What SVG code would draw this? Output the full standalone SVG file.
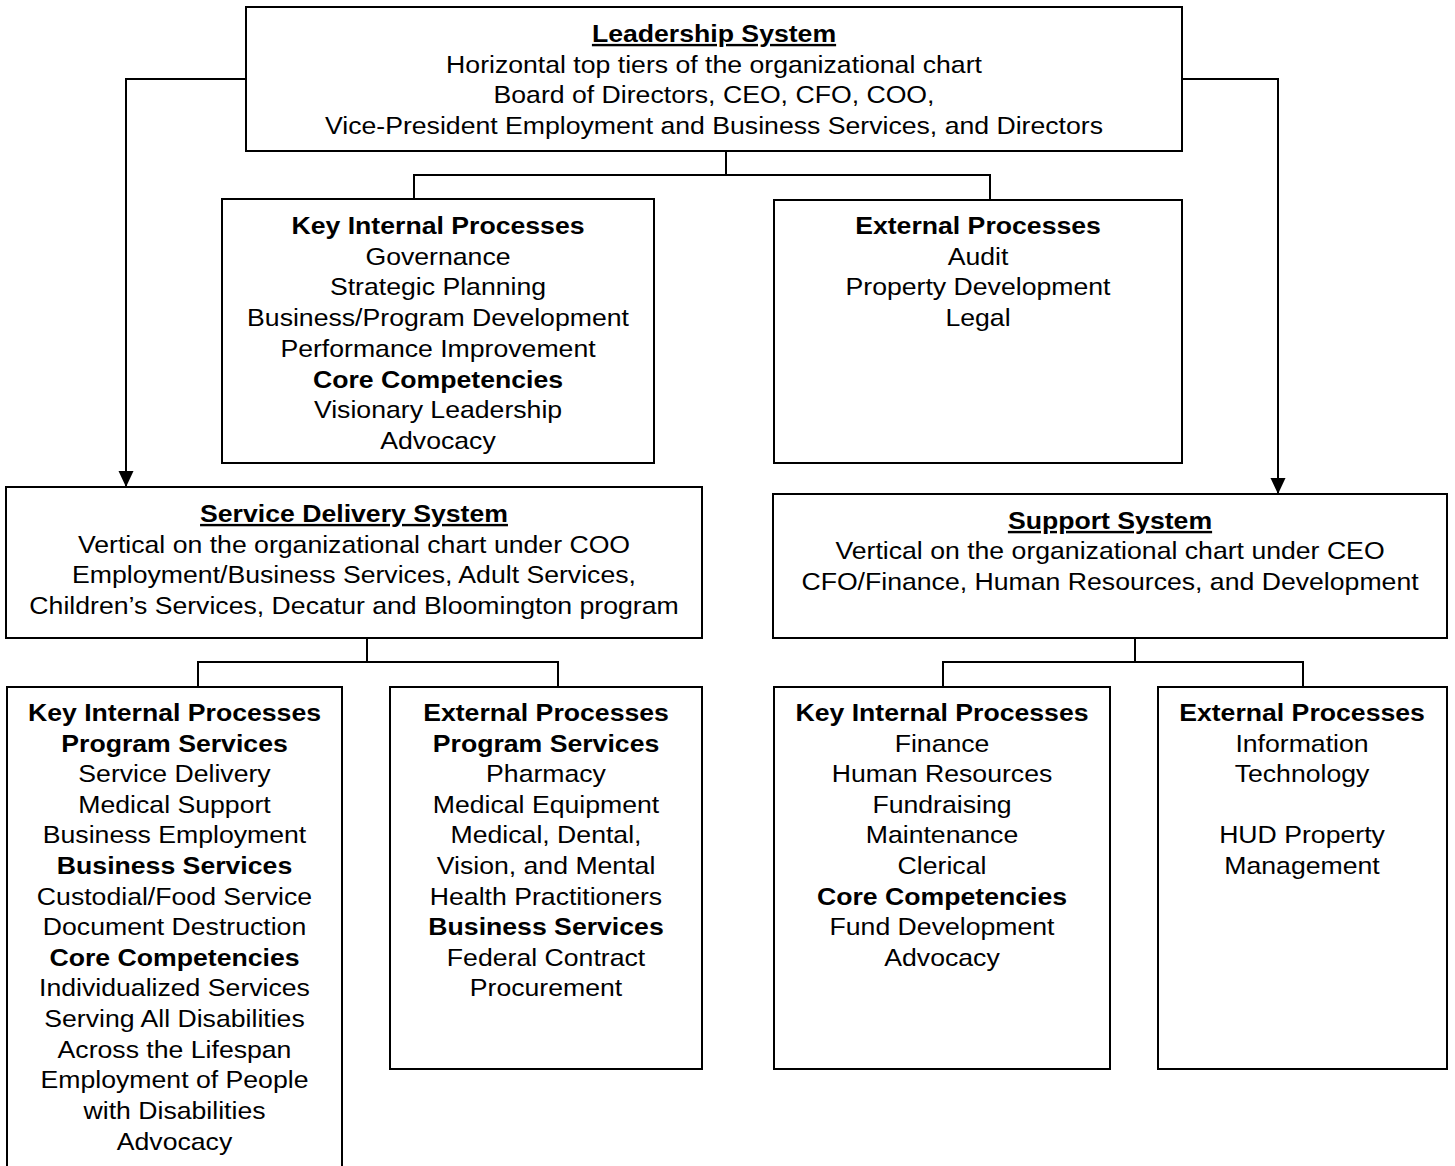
<svg xmlns="http://www.w3.org/2000/svg" width="1455" height="1166" viewBox="0 0 1455 1166">
  <style>
    .box { fill: #ffffff; stroke: #000000; stroke-width: 2; }
    .wire { fill: none; stroke: #000000; stroke-width: 2; }
    text { font-family: "Liberation Sans", Arial, sans-serif; font-size: 24px; fill: #000000; text-anchor: middle; }
    .b { font-weight: bold; }
    .u { font-weight: bold; text-decoration: underline; }
  </style>
  <defs>
    <marker id="head" viewBox="0 0 16 16" refX="16" refY="8" markerWidth="16" markerHeight="16" orient="auto" markerUnits="userSpaceOnUse">
      <path d="M0,0.5 L16,8 L0,15.5 Z" fill="#000000"/>
    </marker>
  </defs>

  <!-- connectors -->
  <g id="connectors">
    <polyline class="wire" points="246,79 126,79 126,487" marker-end="url(#head)"/>
    <polyline class="wire" points="1182,79 1278,79 1278,494" marker-end="url(#head)"/>
    <polyline class="wire" points="726,151 726,175"/>
    <polyline class="wire" points="414,199 414,175 990,175 990,200"/>
    <polyline class="wire" points="367,638 367,662"/>
    <polyline class="wire" points="198,687 198,662 558,662 558,687"/>
    <polyline class="wire" points="1135,638 1135,662"/>
    <polyline class="wire" points="943,687 943,662 1303,662 1303,687"/>
  </g>

  <!-- leadership system; each label block is centred on its box and widened -->
  <g id="leadership">
    <rect class="box" x="246" y="7" width="936" height="144"/>
    <g transform="translate(714 0) scale(1.11 1)">
      <text x="0" y="42" class="u">Leadership System</text>
      <text x="0" y="73">Horizontal top tiers of the organizational chart</text>
      <text x="0" y="103">Board of Directors, CEO, CFO, COO,</text>
      <text x="0" y="134">Vice-President Employment and Business Services, and Directors</text>
    </g>
  </g>

  <g id="leadership-internal">
    <rect class="box" x="222" y="199" width="432" height="264"/>
    <g transform="translate(438 0) scale(1.11 1)">
      <text x="0" y="234" class="b">Key Internal Processes</text>
      <text x="0" y="265">Governance</text>
      <text x="0" y="295">Strategic Planning</text>
      <text x="0" y="326">Business/Program Development</text>
      <text x="0" y="357">Performance Improvement</text>
      <text x="0" y="388" class="b">Core Competencies</text>
      <text x="0" y="418">Visionary Leadership</text>
      <text x="0" y="449">Advocacy</text>
    </g>
  </g>

  <g id="leadership-external">
    <rect class="box" x="774" y="200" width="408" height="263"/>
    <g transform="translate(978 0) scale(1.11 1)">
      <text x="0" y="234" class="b">External Processes</text>
      <text x="0" y="265">Audit</text>
      <text x="0" y="295">Property Development</text>
      <text x="0" y="326">Legal</text>
    </g>
  </g>

  <!-- service delivery system -->
  <g id="service-delivery">
    <rect class="box" x="6" y="487" width="696" height="151"/>
    <g transform="translate(354 0) scale(1.11 1)">
      <text x="0" y="522" class="u">Service Delivery System</text>
      <text x="0" y="553">Vertical on the organizational chart under COO</text>
      <text x="0" y="583">Employment/Business Services, Adult Services,</text>
      <text x="0" y="614">Children’s Services, Decatur and Bloomington program</text>
    </g>
  </g>

  <g id="service-internal">
    <rect class="box" x="7" y="687" width="335" height="500"/>
    <g transform="translate(174.5 0) scale(1.11 1)">
      <text x="0" y="721" class="b">Key Internal Processes</text>
      <text x="0" y="752" class="b">Program Services</text>
      <text x="0" y="782">Service Delivery</text>
      <text x="0" y="813">Medical Support</text>
      <text x="0" y="843">Business Employment</text>
      <text x="0" y="874" class="b">Business Services</text>
      <text x="0" y="905">Custodial/Food Service</text>
      <text x="0" y="935">Document Destruction</text>
      <text x="0" y="966" class="b">Core Competencies</text>
      <text x="0" y="996">Individualized Services</text>
      <text x="0" y="1027">Serving All Disabilities</text>
      <text x="0" y="1058">Across the Lifespan</text>
      <text x="0" y="1088">Employment of People</text>
      <text x="0" y="1119">with Disabilities</text>
      <text x="0" y="1150">Advocacy</text>
    </g>
  </g>

  <g id="service-external">
    <rect class="box" x="390" y="687" width="312" height="382"/>
    <g transform="translate(546 0) scale(1.11 1)">
      <text x="0" y="721" class="b">External Processes</text>
      <text x="0" y="752" class="b">Program Services</text>
      <text x="0" y="782">Pharmacy</text>
      <text x="0" y="813">Medical Equipment</text>
      <text x="0" y="843">Medical, Dental,</text>
      <text x="0" y="874">Vision, and Mental</text>
      <text x="0" y="905">Health Practitioners</text>
      <text x="0" y="935" class="b">Business Services</text>
      <text x="0" y="966">Federal Contract</text>
      <text x="0" y="996">Procurement</text>
    </g>
  </g>

  <!-- support system -->
  <g id="support">
    <rect class="box" x="773" y="494" width="674" height="144"/>
    <g transform="translate(1110 0) scale(1.11 1)">
      <text x="0" y="529" class="u">Support System</text>
      <text x="0" y="559">Vertical on the organizational chart under CEO</text>
      <text x="0" y="590">CFO/Finance, Human Resources, and Development</text>
    </g>
  </g>

  <g id="support-internal">
    <rect class="box" x="774" y="687" width="336" height="382"/>
    <g transform="translate(942 0) scale(1.11 1)">
      <text x="0" y="721" class="b">Key Internal Processes</text>
      <text x="0" y="752">Finance</text>
      <text x="0" y="782">Human Resources</text>
      <text x="0" y="813">Fundraising</text>
      <text x="0" y="843">Maintenance</text>
      <text x="0" y="874">Clerical</text>
      <text x="0" y="905" class="b">Core Competencies</text>
      <text x="0" y="935">Fund Development</text>
      <text x="0" y="966">Advocacy</text>
    </g>
  </g>

  <g id="support-external">
    <rect class="box" x="1158" y="687" width="289" height="382"/>
    <g transform="translate(1302 0) scale(1.11 1)">
      <text x="0" y="721" class="b">External Processes</text>
      <text x="0" y="752">Information</text>
      <text x="0" y="782">Technology</text>
      <text x="0" y="843">HUD Property</text>
      <text x="0" y="874">Management</text>
    </g>
  </g>
</svg>
